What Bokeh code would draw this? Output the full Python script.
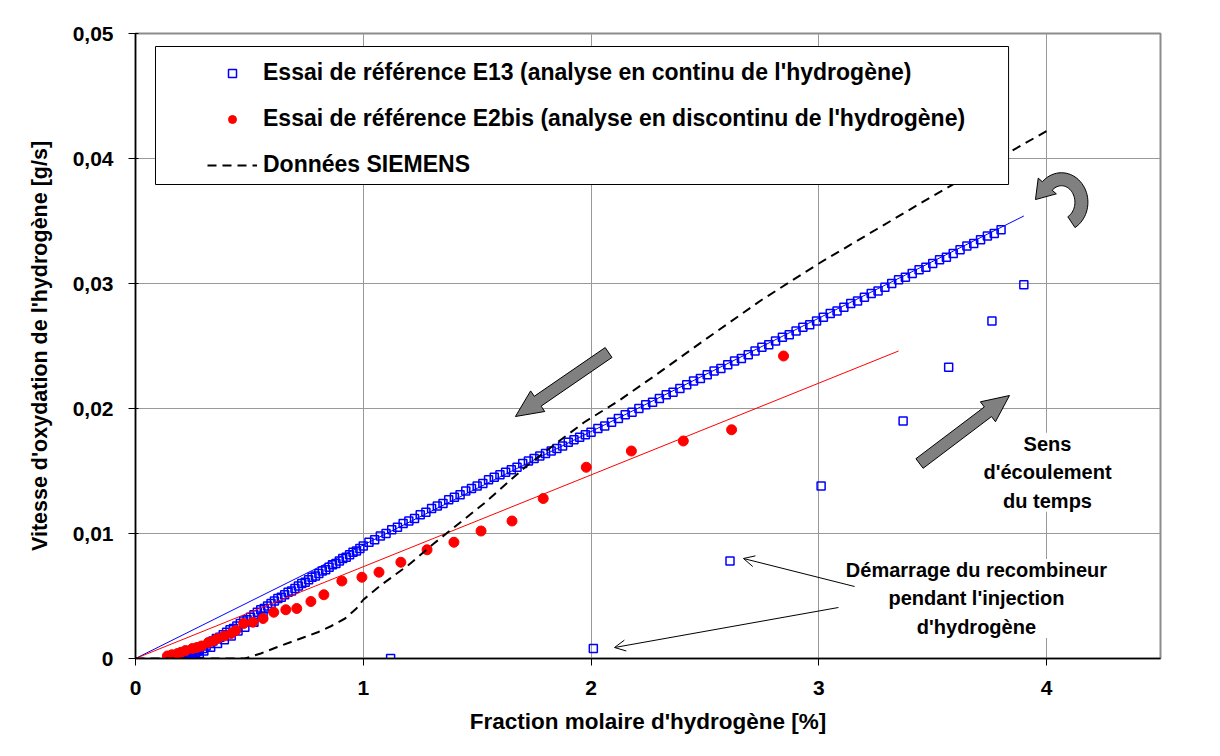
import numpy as np
from bokeh.plotting import figure
from bokeh.models import (Range1d, FixedTicker, Legend, LegendItem, BoxAnnotation,
                          Label, Arrow, OpenHead, ColumnDataSource)
from bokeh.embed import file_html
from bokeh.resources import INLINE

# ---------------- data ----------------
# E13: points recorded while the hydrogen fraction was rising
e13_rise_x = [1.12, 2.01, 2.61, 3.01, 3.37, 3.57, 3.76, 3.90]
e13_rise_y = [0.0000, 0.0008, 0.0078, 0.0138, 0.0190, 0.0233, 0.0270, 0.0299]

# E13: start of the decreasing branch, lower edge of the dense cluster
e13_low_x = [0.23, 0.24, 0.26, 0.28, 0.30, 0.33, 0.36, 0.39, 0.42, 0.45, 0.48, 0.52, 0.56]
e13_low_y = [-0.0002, 0.0000, 0.0002, 0.0004, 0.0006, 0.0009, 0.0012, 0.0015, 0.0018,
             0.0022, 0.0025, 0.0029, 0.0034]

# E13: continuous analysis (decreasing branch)
e13_x = [0.22, 0.228, 0.235, 0.243, 0.25, 0.258, 0.265, 0.273, 0.28, 0.295, 0.31, 0.325,
         0.34, 0.355, 0.37, 0.385,
         0.40, 0.415, 0.43, 0.445, 0.46, 0.475, 0.49, 0.505, 0.52, 0.535, 0.55, 0.565,
         0.58, 0.595, 0.61, 0.625, 0.64, 0.655, 0.67, 0.685, 0.70, 0.715, 0.73, 0.745,
         0.76, 0.775, 0.79, 0.805, 0.82, 0.835, 0.85, 0.865, 0.88, 0.895, 0.91, 0.925,
         0.94, 0.955, 0.97, 0.985,
         1.000, 1.025, 1.05, 1.075, 1.10, 1.125, 1.15, 1.175, 1.20, 1.225, 1.25, 1.275,
         1.30, 1.325, 1.35, 1.375, 1.40, 1.425, 1.45, 1.475, 1.50, 1.525, 1.55, 1.575,
         1.60, 1.625, 1.65, 1.675, 1.70, 1.725, 1.75, 1.775, 1.80, 1.825, 1.85, 1.875,
         1.90, 1.925, 1.95, 1.975,
         2.00, 2.03, 2.06, 2.09, 2.12, 2.15, 2.18, 2.21, 2.24, 2.27, 2.30, 2.33, 2.36,
         2.39, 2.42, 2.45, 2.48, 2.51, 2.54, 2.57, 2.60, 2.63, 2.66, 2.69, 2.72, 2.75,
         2.78, 2.81, 2.84, 2.87, 2.90, 2.93, 2.96, 2.99, 3.02, 3.05, 3.08, 3.11, 3.14,
         3.17, 3.20, 3.23, 3.26, 3.29, 3.32, 3.35, 3.38, 3.41, 3.44, 3.47, 3.50, 3.53,
         3.56, 3.59, 3.62, 3.65, 3.68, 3.71, 3.74, 3.77, 3.80]
e13_y = [0.0000, 0.0000, 0.0001, 0.0002, 0.0003, 0.0004, 0.0005, 0.0006, 0.0007, 0.0008,
         0.0010, 0.0012, 0.0014, 0.0016,
         0.0017, 0.0019, 0.0021, 0.0023, 0.0024, 0.0026, 0.0028, 0.0030, 0.0031, 0.0033,
         0.0035, 0.0037, 0.0039, 0.0040, 0.0042, 0.0044, 0.0046, 0.0048, 0.0049, 0.0051,
         0.0053, 0.0054, 0.0056, 0.0058, 0.0060, 0.0061, 0.0063, 0.0065, 0.0066, 0.0068,
         0.0070, 0.0071, 0.0073, 0.0075, 0.0076, 0.0078, 0.0080, 0.0081, 0.0083, 0.0085,
         0.0086, 0.0088,
         0.0090, 0.0093, 0.0095, 0.0098, 0.0100, 0.0103, 0.0105, 0.0108, 0.0110, 0.0112,
         0.0115, 0.0117, 0.0120, 0.0122, 0.0124, 0.0127, 0.0129, 0.0131, 0.0134, 0.0136,
         0.0138, 0.0140, 0.0143, 0.0145, 0.0147, 0.0149, 0.0151, 0.0153, 0.0156, 0.0158,
         0.0160, 0.0162, 0.0164, 0.0166, 0.0168, 0.0170, 0.0173, 0.0175, 0.0177, 0.0179,
         0.0181, 0.0184, 0.0186, 0.0189, 0.0192, 0.0195, 0.0197, 0.0200, 0.0203, 0.0205,
         0.0208, 0.0211, 0.0213, 0.0216, 0.0219, 0.0222, 0.0224, 0.0227, 0.0230, 0.0232,
         0.0235, 0.0238, 0.0240, 0.0243, 0.0246, 0.0249, 0.0251, 0.0254, 0.0257, 0.0259,
         0.0262, 0.0265, 0.0267, 0.0270, 0.0273, 0.0276, 0.0278, 0.0281, 0.0284, 0.0286,
         0.0289, 0.0292, 0.0294, 0.0297, 0.0300, 0.0303, 0.0305, 0.0308, 0.0311, 0.0313,
         0.0316, 0.0319, 0.0321, 0.0324, 0.0327, 0.0330, 0.0332, 0.0335, 0.0338, 0.0340,
         0.0343]

# E2bis: discontinuous analysis
e2bis_x = [0.14, 0.16, 0.185, 0.20, 0.22, 0.25, 0.27, 0.29, 0.32, 0.34, 0.36, 0.39,
           0.42, 0.44, 0.475, 0.515, 0.56, 0.607, 0.66, 0.708, 0.77, 0.827, 0.906, 0.994,
           1.069, 1.165, 1.28, 1.398, 1.517, 1.653, 1.79, 1.979, 2.177, 2.405, 2.617, 2.845]
e2bis_y = [0.0002, 0.0003, 0.0004, 0.0005, 0.00064, 0.0008, 0.00088, 0.0010, 0.00128,
           0.0014, 0.0016, 0.0018, 0.0020, 0.00224, 0.0028, 0.0029, 0.0032, 0.0037, 0.0039,
           0.0040, 0.00456, 0.0051, 0.0062, 0.0065, 0.0069, 0.0077, 0.0087, 0.0093, 0.0102,
           0.0110, 0.0128, 0.0153, 0.0166, 0.0174, 0.0183, 0.0242]

# SIEMENS data (dashed curve)
siemens_x = [0.0, 0.25, 0.48, 0.55, 0.62, 0.68, 0.74, 0.80, 0.86, 0.92, 0.97, 1.0, 1.08,
             1.2, 1.31, 1.42, 1.53, 1.71, 1.86, 1.97, 2.12, 2.27, 2.5, 2.75, 3.0, 3.25,
             3.5, 3.75, 4.0]
siemens_y = [0.0, 0.0, 0.0, 0.0004, 0.0009, 0.0013, 0.0017, 0.0021, 0.0026, 0.0032,
             0.0040, 0.0047, 0.0059, 0.0075, 0.0092, 0.0108, 0.0124, 0.0153, 0.0174,
             0.0189, 0.0206, 0.0225, 0.0255, 0.0287, 0.0316, 0.0343, 0.0370, 0.0396, 0.0422]

# linear trend lines (through the origin)
e13_fit_x = [0.0, 3.90]
e13_fit_y = [0.0, 0.0354]
e2bis_fit_x = [0.0, 3.35]
e2bis_fit_y = [0.0, 0.0246]

x_ticks = [0, 1, 2, 3, 4]
x_tick_labels = ["0", "1", "2", "3", "4"]
y_ticks = [0, 0.01, 0.02, 0.03, 0.04, 0.05]
y_tick_labels = ["0", "0,01", "0,02", "0,03", "0,04", "0,05"]

legend_labels = ["Essai de référence E13 (analyse en continu de l'hydrogène)",
                 "Essai de référence E2bis (analyse en discontinu de l'hydrogène)",
                 "Données SIEMENS"]
x_title = "Fraction molaire d'hydrogène [%]"
y_title = "Vitesse d'oxydation de l'hydrogène [g/s]"

# ---------------- layout ----------------
X_MIN, X_MAX = 0.0, 4.5
Y_MIN, Y_MAX = 0.0, 0.05
FRAME_W, FRAME_H = 1025, 625
FONT = "Liberation Sans"

p = figure(frame_width=FRAME_W, frame_height=FRAME_H,
           min_border_left=135, min_border_right=44, min_border_top=33, min_border_bottom=82,
           x_range=Range1d(X_MIN, X_MAX), y_range=Range1d(Y_MIN, Y_MAX),
           output_backend="svg", toolbar_location=None, background_fill_color="white",
           border_fill_color="white")
p.outline_line_color = "#8c8c8c"
p.outline_line_width = 2

for ax in (p.xaxis[0], p.yaxis[0]):
    ax.axis_line_color = "black"
    ax.axis_line_width = 1.5
    ax.major_tick_line_color = "black"
    ax.major_tick_line_width = 1
    ax.minor_tick_line_color = None
    ax.major_label_text_font = FONT
    ax.major_label_text_font_style = "bold"
    ax.major_label_text_font_size = "21px"
    ax.major_label_text_color = "black"
    ax.axis_label_text_font = FONT
    ax.axis_label_text_font_style = "bold"
    ax.axis_label_text_color = "black"

p.xaxis.ticker = FixedTicker(ticks=x_ticks)
p.xaxis.major_label_overrides = dict(zip(x_ticks, x_tick_labels))
p.xaxis.major_tick_in = 0
p.xaxis.major_tick_out = 7
p.xaxis.major_label_standoff = 15
p.xaxis.axis_label = x_title
p.xaxis.axis_label_text_font_size = "22.5px"
p.xaxis.axis_label_standoff = 11

p.yaxis.ticker = FixedTicker(ticks=y_ticks)
p.yaxis.major_label_overrides = dict(zip(y_ticks, y_tick_labels))
p.yaxis.major_tick_in = 3
p.yaxis.major_tick_out = 7
p.yaxis.major_label_standoff = 15
p.yaxis.axis_label = y_title
p.yaxis.axis_label_text_font_size = "21.5px"
p.yaxis.axis_label_standoff = 18

p.xgrid.ticker = FixedTicker(ticks=x_ticks)
p.ygrid.ticker = FixedTicker(ticks=y_ticks)
p.grid.grid_line_color = "#999999"
p.grid.grid_line_width = 1

# ---------------- data glyphs ----------------
src_e13 = ColumnDataSource(dict(x=e13_rise_x + e13_low_x + e13_x,
                                y=e13_rise_y + e13_low_y + e13_y))
src_e2 = ColumnDataSource(dict(x=e2bis_x, y=e2bis_y))

r_e13 = p.scatter("x", "y", source=src_e13, marker="square", size=8,
                  line_color="#0000ff", line_width=1.5, fill_color=None)
r_e2 = p.scatter("x", "y", source=src_e2, marker="circle", size=10,
                 line_color="#ff0000", fill_color="#ff0000")
p.line(e13_fit_x, e13_fit_y, line_color="#0000ff", line_width=1)
p.line(e2bis_fit_x, e2bis_fit_y, line_color="#ff0000", line_width=1)
r_sie = p.line(siemens_x, siemens_y, line_color="black", line_width=2, line_dash="9 6")

# ---------------- decorative gray arrows ----------------
SX = FRAME_W / (X_MAX - X_MIN)
SY = FRAME_H / (Y_MAX - Y_MIN)


def block_arrow(tail, tip, shaft_w, head_w, head_l):
    t = np.array([tail[0] * SX, tail[1] * SY])
    q = np.array([tip[0] * SX, tip[1] * SY])
    d = q - t
    d = d / np.hypot(*d)
    n = np.array([-d[1], d[0]])
    b = q - d * head_l
    pts = [t + n * shaft_w / 2, b + n * shaft_w / 2, b + n * head_w / 2, q,
           b - n * head_w / 2, b - n * shaft_w / 2, t - n * shaft_w / 2]
    return [pt[0] / SX for pt in pts], [pt[1] / SY for pt in pts]


def curved_arrow(center, rx, ry, a0, a1, half_w, head_half, head_l):
    cx, cy = center[0] * SX, center[1] * SY
    th = np.radians(np.linspace(a0, a1, 40))
    px = cx + rx * np.cos(th)
    py = cy + ry * np.sin(th)
    tx = -rx * np.sin(th)
    ty = ry * np.cos(th)
    nn = np.hypot(tx, ty)
    tx, ty = tx / nn, ty / nn
    ox, oy = ty, -tx  # outward normal
    outer = list(zip(px + ox * half_w, py + oy * half_w))
    inner = list(zip(px - ox * half_w, py - oy * half_w))[::-1]
    ex, ey = px[-1], py[-1]
    head = [(ex + ox[-1] * head_half, ey + oy[-1] * head_half),
            (ex + tx[-1] * head_l, ey + ty[-1] * head_l),
            (ex - ox[-1] * head_half, ey - oy[-1] * head_half)]
    pts = outer + head + inner
    return [a / SX for a, _ in pts], [b / SY for _, b in pts]


arrows_xs, arrows_ys = [], []
for tail, tip in [((2.077, 0.02448), (1.668, 0.01936)),
                  ((3.442, 0.01560), (3.837, 0.02104))]:
    ax_, ay_ = block_arrow(tail, tip, 12, 25, 27)
    arrows_xs.append(ax_)
    arrows_ys.append(ay_)
cx_, cy_ = curved_arrow((4.065, 0.03650), 20, 23, -60, 135, 6.5, 12, 18)
arrows_xs.append(cx_)
arrows_ys.append(cy_)
p.patches(arrows_xs, arrows_ys, fill_color="#808080", line_color="black", line_width=1)

# ---------------- text annotations ----------------
lab1 = Label(x=4.004, y=0.01490, text="Sens\nd'écoulement\ndu temps",
             text_font=FONT, text_font_style="bold", text_font_size="20px",
             text_align="center", text_baseline="middle", text_line_height=1.3,
             background_fill_color="white", text_color="black")
lab2 = Label(x=3.692, y=0.0048, text="Démarrage du recombineur\npendant l'injection\nd'hydrogène",
             text_font=FONT, text_font_style="bold", text_font_size="20px",
             text_align="center", text_baseline="middle", text_line_height=1.3,
             background_fill_color="white", text_color="black")
p.add_layout(lab1)
p.add_layout(lab2)

for (xs_, ys_), (xe_, ye_) in [((3.157, 0.00576), (2.669, 0.0080)),
                               ((3.086, 0.00408), (2.103, 0.00088))]:
    p.add_layout(Arrow(end=OpenHead(size=11, line_width=1, line_color="black"),
                       x_start=xs_, y_start=ys_, x_end=xe_, y_end=ye_,
                       line_color="black", line_width=1))

# ---------------- legend ----------------
box = BoxAnnotation(left=0.0878, right=3.833, bottom=0.03792, top=0.04896,
                    fill_color="white", fill_alpha=1.0, line_color="black",
                    line_width=1, line_alpha=1.0)
p.add_layout(box)

legend = Legend(items=[LegendItem(label=legend_labels[0], renderers=[r_e13]),
                       LegendItem(label=legend_labels[1], renderers=[r_e2]),
                       LegendItem(label=legend_labels[2], renderers=[r_sie])],
                location=(62, 470), orientation="vertical",
                background_fill_alpha=0, border_line_alpha=0,
                padding=10, margin=0, spacing=19,
                glyph_width=50, glyph_height=20, label_height=27, label_standoff=6,
                label_text_font=FONT, label_text_font_style="bold",
                label_text_font_size="23px", label_text_color="black")
p.add_layout(legend)

open("out.html", "w").write(file_html(p, INLINE))
